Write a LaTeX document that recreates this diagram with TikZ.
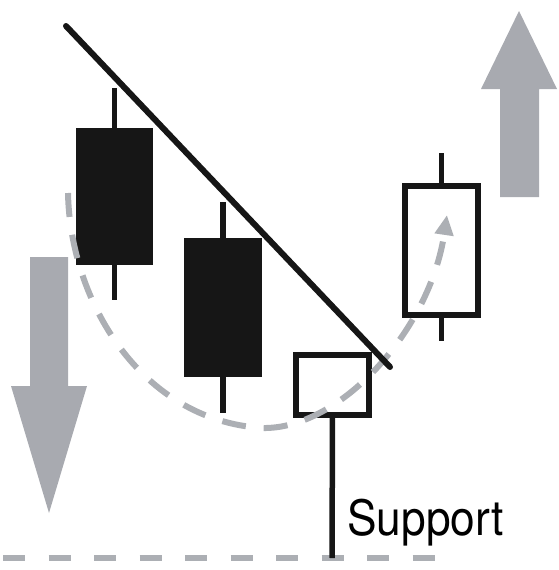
\documentclass[tikz,border=0pt]{standalone}
\usepackage{fontspec}
\newfontfamily\labelfont{TeX Gyre Heros}
\usetikzlibrary{arrows.meta}
\definecolor{arrowgrey}{RGB}{168,170,176}
\definecolor{curvegrey}{RGB}{172,175,180}
\definecolor{candleblack}{RGB}{22,22,22}
\tikzset{
  bear/.style={fill=candleblack, inner sep=0pt, outer sep=0pt},
  bull/.style={draw=candleblack, fill=white, line width=6pt, inner sep=0pt, outer sep=0pt},
  wick/.style={draw=candleblack, line width=5.5pt},
}
\begin{document}
\begin{tikzpicture}[x=1pt, y=-1pt, line join=miter]
\useasboundingbox (0,0) rectangle (558,570);
% big arrows
\fill[arrowgrey] (30,257) -- (68,257) -- (68,386) -- (87,386) -- (49,513) -- (11,386) -- (30,386) -- cycle;
\fill[arrowgrey] (500,197) -- (539,197) -- (539,89) -- (557,89) -- (519,11) -- (481,89) -- (500,89) -- cycle;
% support level
\draw[curvegrey, line width=6pt, dash pattern=on 22pt off 23.5pt] (3,558) -- (437,558);
% candles
\node[bear, minimum width=77pt, minimum height=137pt] (c1) at (114.5,196.5) {};
\node[bear, minimum width=78pt, minimum height=139pt] (c2) at (223,307.5) {};
\coordinate (h1) at (114.5,88);
\coordinate (l1) at (114.5,300);
\coordinate (h2) at (223,202);
\coordinate (l2) at (223,413);
\coordinate (l3) at (332,558);
\coordinate (h4) at (441.5,153);
\coordinate (l4) at (441.5,341);
\draw[wick] (c1.north) -- (h1);
\draw[wick] (c1.south) -- (l1);
\draw[wick] (c2.north) -- (h2);
\draw[wick] (c2.south) -- (l2);
\node[bull, minimum width=73pt, minimum height=60pt] (c3) at (332.5,385) {};
\node[bull, minimum width=73pt, minimum height=129pt] (c4) at (441.5,250.5) {};
\draw[wick] (c3.south) -- (l3);
\draw[wick] (c4.north) -- (h4);
\draw[wick] (c4.south) -- (l4);
% rounding bottom
\draw[curvegrey, line width=6pt, dash pattern=on 24pt off 18pt, -{Triangle[length=20pt,width=18pt]}]
  (68,193) .. controls (70,300) and (140,420) .. (262,428) .. controls (340,430) and (430,330) .. (447,215);
% trend line
\draw[candleblack, line width=6pt, line cap=round] (66,26) -- (390,367);
\node[anchor=base west, inner sep=0pt] (support) at (347,535) {\labelfont\fontsize{48.7}{50}\selectfont\scalebox{0.91}[1]{Support}};
\end{tikzpicture}
\end{document}
